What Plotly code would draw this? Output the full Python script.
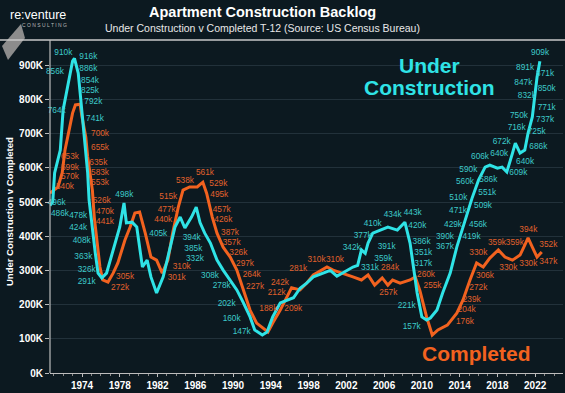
import plotly.graph_objects as go

# ---------------- data (values in thousands of units) ----------------
uc_year = [1970.6, 1970.9, 1971.1, 1971.4, 1971.7, 1972.0, 1972.3, 1972.5, 1972.8, 1973.0,
           1973.2, 1973.4, 1973.6, 1973.8, 1974.0, 1974.3, 1974.6, 1974.75, 1975.05, 1975.4,
           1975.7, 1976.1, 1976.6, 1977.2, 1977.7, 1978.0, 1978.45, 1978.7, 1979.3, 1979.8,
           1980.4, 1980.9, 1981.3, 1981.9, 1982.6, 1983.3, 1983.85, 1984.4, 1984.9, 1985.6,
           1986.1, 1986.5, 1987.0, 1987.6, 1988.3, 1988.95, 1989.7, 1990.4, 1991.1, 1991.8,
           1992.3, 1993.1, 1993.6, 1994.2, 1995.0, 1995.7, 1996.4, 1997.1, 1997.8, 1998.5,
           1999.5, 2000.3, 2001.0, 2002.1, 2002.7, 2003.2, 2003.6, 2004.0, 2004.3, 2004.8,
           2005.6, 2006.4, 2007.4, 2008.2, 2008.75, 2009.1, 2009.5, 2010.0, 2010.5, 2010.9,
           2011.6, 2012.2, 2013.0, 2013.7, 2014.25, 2014.8, 2015.3, 2016.0, 2016.7, 2017.2,
           2018.0, 2018.5, 2019.0, 2019.6, 2019.9, 2020.4, 2020.9, 2021.25, 2021.7, 2022.0,
           2022.2, 2022.5]
uc_val = [490, 500, 585, 620, 652, 769, 810, 848, 880, 912,
          920, 900, 877, 820, 762, 690, 585, 506, 427, 352,
          292, 278, 292, 351, 398, 427, 497, 439, 441, 427,
          310, 330, 281, 234, 281, 368, 427, 456, 424, 456,
          485, 440, 409, 380, 330, 301, 272, 243, 205, 164,
          126, 111, 120, 164, 205, 213, 220, 248, 263, 281,
          292, 300, 283, 301, 310, 315, 360, 350, 380, 409,
          418, 427, 418, 441, 380, 310, 234, 164, 155, 161,
          184, 234, 292, 368, 418, 470, 510, 564, 602, 608,
          599, 602, 588, 643, 672, 643, 652, 702, 749, 819,
          865, 912]

co_year = [1970.6, 1971.0, 1971.45, 1971.9, 1972.2, 1972.7, 1973.0, 1973.3, 1973.8, 1974.0,
           1974.4, 1974.6, 1975.1, 1975.3, 1975.6, 1975.9, 1976.2, 1976.75, 1977.3, 1977.8,
           1978.55, 1979.1, 1979.6, 1980.1, 1980.7, 1981.3, 1981.9, 1982.5, 1983.1, 1983.6,
           1984.2, 1984.7, 1985.4, 1986.2, 1986.8, 1987.2, 1987.8, 1988.3, 1988.95, 1989.7,
           1990.4, 1991.1, 1991.8, 1992.5, 1993.2, 1993.7, 1994.2, 1995.0, 1995.7, 1996.2,
           1997.1, 1997.8, 1998.5, 1999.95, 2000.6, 2001.65, 2002.7, 2003.6, 2004.3, 2005.0,
           2005.8, 2006.4, 2006.9, 2007.7, 2008.75, 2009.3, 2009.8, 2010.5, 2011.1, 2011.7,
           2012.7, 2013.7, 2014.35, 2015.1, 2015.8, 2016.5, 2017.2, 2018.1, 2018.8, 2019.6,
           2020.4, 2020.9, 2021.25, 2021.7, 2022.2, 2022.7]
co_val = [526, 535, 544, 585, 652, 719, 760, 784, 786, 749,
          690, 632, 535, 456, 389, 310, 272, 266, 292, 322,
          389, 427, 468, 471, 409, 339, 330, 292, 330, 409,
          485, 535, 544, 544, 558, 526, 456, 409, 368, 339,
          301, 243, 184, 146, 132, 120, 146, 184, 222, 249,
          243, 263, 287, 310, 301, 292, 281, 272, 287, 257,
          278, 257, 272, 263, 272, 281, 240, 164, 111, 126,
          140, 175, 213, 272, 322, 310, 336, 360, 339, 330,
          345, 374, 395, 368, 339, 354]

# data labels (text, and where they sit: year, thousands)
uc_lab_text = ["910k", "916k", "856k", "886k", "854k", "825k", "792k", "764k", "741k", "496k",
               "486k", "478k", "424k", "408k", "363k", "326k", "291k", "498k", "405k", "394k",
               "385k", "332k", "308k", "278k", "202k", "160k", "147k", "342k", "377k", "410k",
               "434k", "443k", "420k", "391k", "359k", "331k", "386k", "351k", "317k", "221k",
               "157k", "367k", "390k", "419k", "429k", "456k", "471k", "509k", "510k", "551k",
               "560k", "586k", "590k", "606k", "640k", "672k", "609k", "640k", "686k", "716k",
               "725k", "750k", "737k", "771k", "832k", "850k", "847k", "871k", "891k", "909k"]
uc_lab_year = [1972.02, 1974.67, 1971.14, 1974.67, 1974.85, 1974.85, 1975.2, 1971.32, 1975.38, 1971.32,
               1971.67, 1973.6, 1973.6, 1973.97, 1974.14, 1974.5, 1974.5, 1978.48, 1982.08, 1985.62,
               1985.79, 1985.97, 1987.56, 1988.8, 1989.32, 1989.85, 1990.92, 2002.57, 2003.73, 2004.79,
               2006.91, 2009.03, 2009.52, 2006.27, 2005.92, 2004.5, 2009.97, 2010.15, 2010.15, 2008.39,
               2008.92, 2012.45, 2012.45, 2015.27, 2013.3, 2015.95, 2013.83, 2016.48, 2013.86, 2016.93,
               2014.57, 2017.04, 2014.92, 2016.16, 2018.2, 2018.46, 2020.22, 2020.93, 2022.34, 2020.04,
               2022.16, 2020.29, 2023.05, 2023.23, 2021.12, 2023.23, 2020.75, 2023.05, 2020.93, 2022.52]
uc_lab_val = [935, 923, 879, 888, 853, 825, 793, 766, 742, 496,
              465, 459, 423, 386, 338, 301, 267, 520, 406, 394,
              363, 333, 284, 254, 201, 157, 121, 365, 401, 436,
              462, 469, 430, 368, 333, 306, 384, 352, 319, 196,
              134, 369, 399, 397, 433, 433, 474, 488, 511, 527,
              559, 564, 594, 632, 642, 676, 586, 618, 662, 718,
              704, 751, 740, 774, 810, 830, 849, 874, 891, 935]

co_lab_text = ["653k", "599k", "570k", "540k", "700k", "655k", "635k", "583k", "553k", "526k",
               "470k", "441k", "305k", "272k", "310k", "301k", "440k", "477k", "515k", "538k",
               "561k", "529k", "495k", "457k", "426k", "387k", "357k", "326k", "297k", "264k",
               "227k", "242k", "212k", "188k", "209k", "281k", "310k", "310k", "284k", "257k",
               "260k", "255k", "176k", "204k", "239k", "272k", "306k", "330k", "359k", "359k",
               "330k", "330k", "394k", "352k", "347k"]
co_lab_year = [1972.73, 1972.73, 1972.73, 1972.2, 1975.91, 1975.91, 1975.73, 1975.91, 1975.91, 1976.09,
               1976.44, 1976.44, 1978.56, 1978.03, 1984.56, 1984.03, 1982.61, 1982.97, 1983.14, 1984.91,
               1987.03, 1988.44, 1988.54, 1988.8, 1988.97, 1989.68, 1989.85, 1990.56, 1991.27, 1991.98,
               1992.33, 1994.97, 1994.63, 1993.74, 1996.38, 1996.91, 1998.85, 2000.8, 2006.63, 2006.45,
               2010.44, 2011.13, 2014.57, 2014.75, 2015.28, 2015.98, 2016.69, 2015.98, 2017.95, 2019.85,
               2019.16, 2021.28, 2021.28, 2023.4, 2023.4]
co_lab_val = [631, 601, 574, 545, 699, 657, 615, 585, 556, 503,
              472, 442, 282, 248, 309, 279, 447, 477, 515, 561,
              586, 552, 520, 477, 447, 410, 381, 350, 319, 287,
              252, 262, 235, 187, 186, 303, 332, 332, 306, 235,
              286, 256, 150, 184, 215, 248, 284, 352, 381, 381,
              306, 319, 418, 374, 325]

y_tick_vals = [0, 100, 200, 300, 400, 500, 600, 700, 800, 900]
y_tick_text = ["0K", "100K", "200K", "300K", "400K", "500K", "600K", "700K", "800K", "900K"]
x_tick_vals = [1974, 1978, 1982, 1986, 1990, 1994, 1998, 2002, 2006, 2010, 2014, 2018, 2022]
x_tick_text = [str(v) for v in x_tick_vals]

# ---------------- style ----------------
BG = "#0c1920"
CYAN = "#2fe3e6"
ORANGE = "#f2621f"
CYAN_LAB = "#3dcaca"
ORANGE_LAB = "#e2612c"
FONT = "Liberation Sans, Arial, sans-serif"

W, H = 565, 393
ML, MR, MT, MB = 50, 2, 42, 20
PW, PH = W - ML - MR, H - MT - MB


def px(xp):
    return (xp - ML) / PW


def py(yp):
    return (H - MB - yp) / PH


fig = go.Figure()
fig.add_trace(go.Scatter(x=co_year, y=co_val, mode="lines",
                         line=dict(color=ORANGE, width=3), hoverinfo="skip"))
fig.add_trace(go.Scatter(x=uc_year, y=uc_val, mode="lines",
                         line=dict(color=CYAN, width=3), hoverinfo="skip"))
fig.add_trace(go.Scatter(x=co_lab_year, y=co_lab_val, mode="text", text=co_lab_text,
                         textposition="middle center", cliponaxis=False,
                         textfont=dict(color=ORANGE_LAB, size=8.3, family=FONT),
                         hoverinfo="skip"))
fig.add_trace(go.Scatter(x=uc_lab_year, y=uc_lab_val, mode="text", text=uc_lab_text,
                         textposition="middle center", cliponaxis=False,
                         textfont=dict(color=CYAN_LAB, size=8.3, family=FONT),
                         hoverinfo="skip"))

ann = []
ann.append(dict(text="<b>Apartment Construction Backlog</b>", x=px(262), y=py(12),
                xref="paper", yref="paper", showarrow=False, xanchor="center", yanchor="middle",
                font=dict(color="white", size=14.5, family=FONT)))
ann.append(dict(text="Under Construction v Completed T-12 (Source: US Census Bureau)", x=px(262), y=py(28.5),
                xref="paper", yref="paper", showarrow=False, xanchor="center", yanchor="middle",
                font=dict(color="#e8e8e8", size=10.5, family=FONT)))
ann.append(dict(text="re:venture", x=px(8), y=py(15), xref="paper", yref="paper", showarrow=False,
                xanchor="left", yanchor="middle", font=dict(color="white", size=12.5, family=FONT)))
ann.append(dict(text="C O N S U L T I N G", x=px(44), y=py(24.5), xref="paper", yref="paper",
                showarrow=False, xanchor="center", yanchor="middle",
                font=dict(color="#b8b8b8", size=5, family=FONT)))
ann.append(dict(text="<b>Under Construction v Completed</b>", x=px(10), y=py(212), xref="paper",
                yref="paper", showarrow=False, textangle=-90, xanchor="center", yanchor="middle",
                font=dict(color="white", size=9.5, family=FONT)))
ann.append(dict(text="<b>Under</b>", x=px(429), y=py(66), xref="paper", yref="paper", showarrow=False,
                xanchor="center", yanchor="middle", font=dict(color=CYAN, size=21, family=FONT)))
ann.append(dict(text="<b>Construction</b>", x=px(429), y=py(87), xref="paper", yref="paper",
                showarrow=False, xanchor="center", yanchor="middle",
                font=dict(color=CYAN, size=21, family=FONT)))
ann.append(dict(text="<b>Completed</b>", x=px(476), y=py(353), xref="paper", yref="paper",
                showarrow=False, xanchor="center", yanchor="middle",
                font=dict(color=ORANGE, size=21, family=FONT)))

shapes = []
# logo gem
shapes.append(dict(type="path", xref="paper", yref="paper",
                   path="M {} {} L {} {} L {} {} L {} {} Z".format(px(21), py(24), px(25), py(38),
                                                                      px(8), py(60), px(2), py(46)),
                   fillcolor="#8c8c8c", line=dict(width=0), layer="below"))
# header rule
shapes.append(dict(type="line", xref="paper", yref="paper", x0=px(0), x1=px(565), y0=py(40), y1=py(40),
                   line=dict(color="#c9c9c9", width=1.5)))
# y axis rule extension to header
shapes.append(dict(type="line", xref="paper", yref="paper", x0=px(50), x1=px(50), y0=py(40), y1=py(373),
                   line=dict(color="#bdbdbd", width=1.2)))

fig.update_layout(
    template="none",
    width=W, height=H,
    margin=dict(l=ML, r=MR, t=MT, b=MB, autoexpand=False),
    paper_bgcolor=BG, plot_bgcolor=BG,
    showlegend=False,
    annotations=ann, shapes=shapes,
    font=dict(family=FONT, color="white"),
    xaxis=dict(range=[1970.61, 2024.95], tickvals=x_tick_vals, ticktext=x_tick_text,
               automargin=False,
               showgrid=False, zeroline=False, showline=True, linecolor="#bdbdbd", linewidth=1.2,
               ticks="outside", ticklen=3, tickcolor="#bdbdbd", ticklabelstandoff=0,
               tickfont=dict(color="white", size=10, family=FONT, weight="bold"),
               minor=dict(dtick=1, tick0=1970, ticks="outside", ticklen=2, tickcolor="#8a8a8a")),
    yaxis=dict(range=[0, 968], tickvals=y_tick_vals, ticktext=y_tick_text,
               automargin=False,
               showgrid=True, gridcolor="#22313a", gridwidth=1, zeroline=False,
               showline=False, ticks="outside", ticklen=4, tickcolor="#bdbdbd",
               tickfont=dict(color="white", size=10, family=FONT, weight="bold")),
)

fig.write_html("out.html", config={"displayModeBar": False},
               post_script="document.body.style.margin='0px';document.body.style.background='" + BG + "';")
